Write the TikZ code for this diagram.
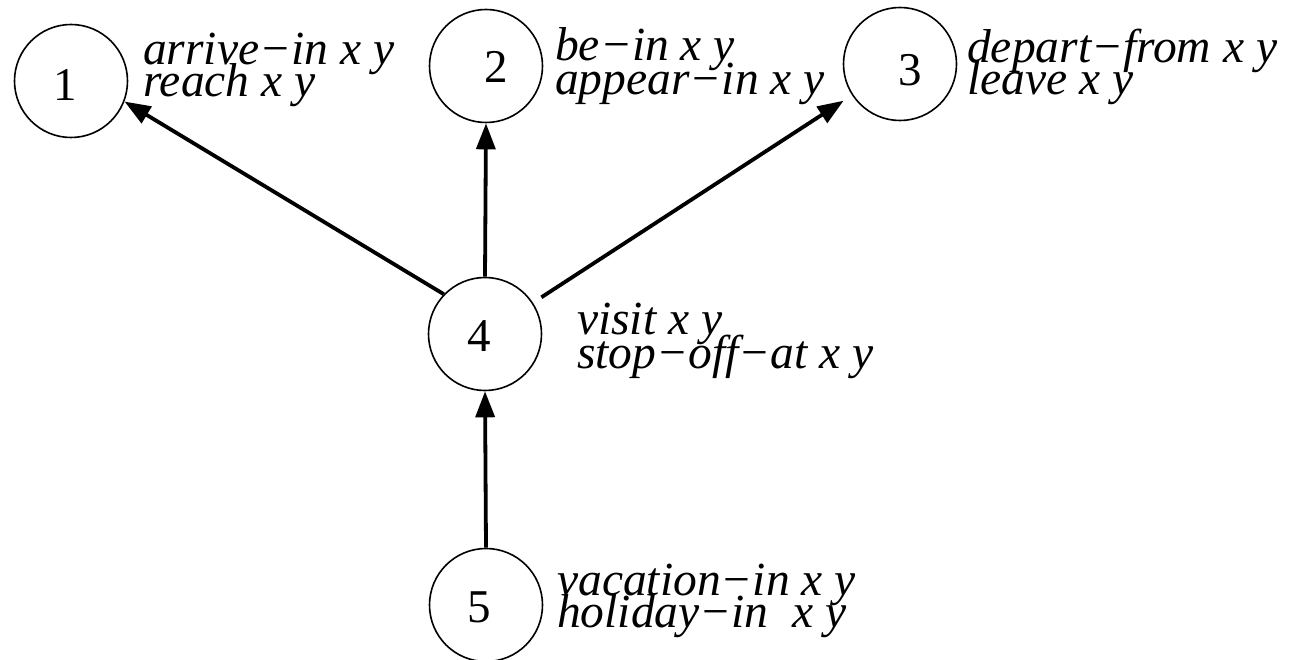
\documentclass[tikz,border=0pt]{standalone}
\usepackage{fontspec}
\setmainfont{Liberation Serif}
\usetikzlibrary{arrows.meta}
\begin{document}
\begin{tikzpicture}[x=1pt,y=-1pt,
  state/.style={circle,draw,line width=1.6pt,minimum size=113pt,inner sep=0pt},
  digit/.style={font=\fontsize{47}{47}\selectfont,inner sep=0pt},
  lab/.style={font=\fontsize{47.5}{47.5}\selectfont\itshape,anchor=base west,inner sep=0pt},
  arr/.style={line width=3.8pt,-{Triangle[length=26pt,width=19pt]}}]
\useasboundingbox (0,0) rectangle (1292,660);
% states
\node[state] (n1) at (71,81) {};
\node[state] (n2) at (486,66) {};
\node[state] (n3) at (900,64) {};
\node[state] (n4) at (485,334) {};
\node[state] (n5) at (486,605) {};
% digits
\node[digit] (d1) at (65,85) {1};
\node[digit] (d2) at (496,67) {2};
\node[digit] (d3) at (910,70) {3};
\node[digit] (d4) at (479,336) {4};
\node[digit] (d5) at (479,607) {5};
% labels
\node[lab] (t1a) at (143,65) {arrive−in x y};
\node[lab] (t1b) at (143,97) {reach x y};
\node[lab] (t2a) at (555,61) {be−in x y};
\node[lab] (t2b) at (555,95) {appear−in x y};
\node[lab] (t3a) at (967,63) {depart−from x y};
\node[lab] (t3b) at (967,95) {leave x y};
\node[lab] (t4a) at (577,334) {visit x y};
\node[lab] (t4b) at (577,368) {stop−off−at x y};
\node[lab] (t5a) at (557,595) {vacation−in x y};
\node[lab] (t5b) at (557,627) {holiday−in\ \ x y};
% connectors
\draw[arr] (n4.136) -- (n1.-21);
\draw[arr] (n4.north) -- (n2.south);
\draw[arr,shorten <=10pt,shorten >=10pt] (n4) -- (n3);
\draw[arr] (n5.north) -- (n4.south);
\end{tikzpicture}
\end{document}
